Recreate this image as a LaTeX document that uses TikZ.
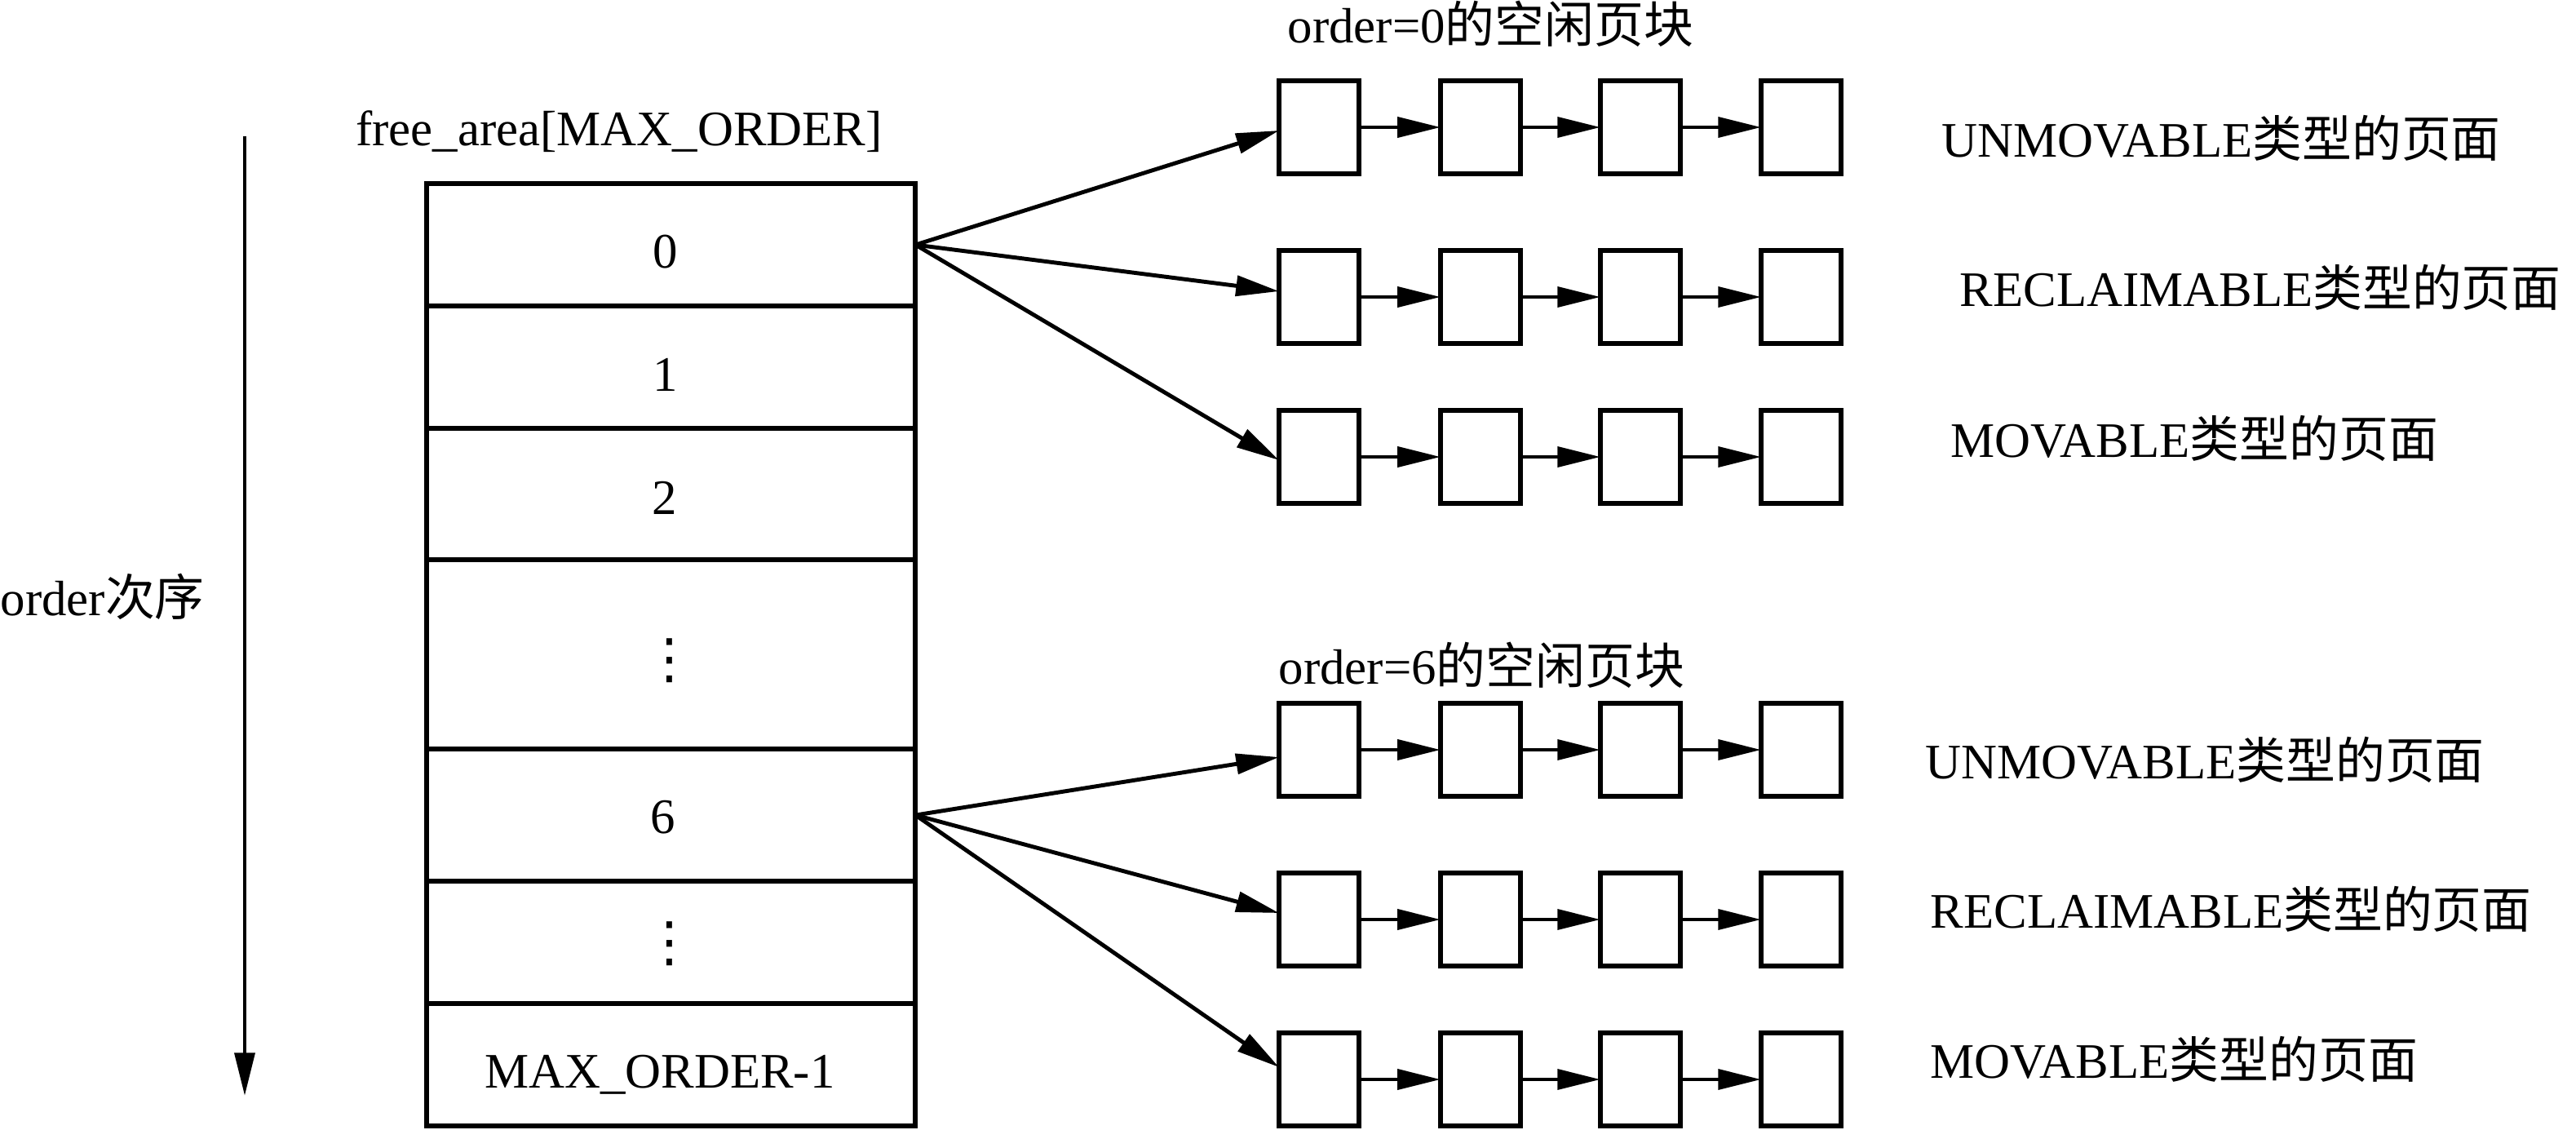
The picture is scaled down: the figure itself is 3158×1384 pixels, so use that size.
\documentclass[tikz,border=0pt]{standalone}
\usepackage{fontspec}
\setmainfont{Liberation Serif}
\newfontfamily\cjk{Noto Sans CJK SC}
\newfontfamily\dvs{DejaVu Sans}
\usetikzlibrary{arrows.meta,calc}
\begin{document}
\begin{tikzpicture}[x=0.01cm,y=-0.01cm,
  every node/.style={font=\fontsize{17.3pt}{20pt}\selectfont, inner sep=0pt},
  cell/.style={draw, line width=1.7pt, outer sep=0pt, minimum width=5.99cm, anchor=north west},
  page/.style={draw, line width=1.7pt, outer sep=0pt, minimum width=0.98cm, minimum height=1.14cm},
  link/.style={line width=1.4pt, -{Triangle[length=15pt,width=7pt]}},
  txt/.style={anchor=base west},
  vd/.style={font=\dvs\fontsize{19pt}{20pt}\selectfont},
]
\useasboundingbox (0,0) rectangle (3158,1384);

% table cells
\node[cell, minimum height=1.5cm]  (r0)   at (523,225)  {};
\node[cell, minimum height=1.5cm]  (r1)   at (523,375)  {};
\node[cell, minimum height=1.61cm] (r2)   at (523,525)  {};
\node[cell, minimum height=2.32cm] (r3)   at (523,686)  {};
\node[cell, minimum height=1.62cm] (r6)   at (523,918)  {};
\node[cell, minimum height=1.5cm]  (r7)   at (523,1080) {};
\node[cell, minimum height=1.5cm]  (rmax) at (523,1230) {};

% cell texts
\node[anchor=base] (t0) at (816,328) {0};
\node[anchor=base] (t1) at (816,479) {1};
\node[anchor=base] (t2) at (815,630) {2};
\node[vd] (d1) at (821,810) {⋮};
\node[anchor=base] (t6) at (813,1021) {6};
\node[vd] (d2) at (821,1157) {⋮};
\node[anchor=base] (tmax) at (809,1333) {MAX\_ORDER-1};
\node[anchor=base] (fa) at (759,178) {free\_area[MAX\_ORDER]};

% order arrow
\coordinate (otop) at (300,167);
\coordinate (obot) at (300,1343);
\draw[link] (otop) -- (obot);
\node[txt] (ord) at (0,754) {order{\cjk 次序}};

% group titles
\node[txt] (g0) at (1578,52) {order=0{\cjk 的空闲页块}};
\node[txt] (g6) at (1567,838) {order=6{\cjk 的空闲页块}};

% page chains
\foreach \r/\y in {1/156,2/364,3/560,4/919,5/1127,6/1323} {
  \foreach \c/\x in {1/1617,2/1815,3/2011,4/2208} {
    \node[page] (b\r\c) at (\x,\y) {};
  }
  \draw[link] (b\r1.east) -- (b\r2.west);
  \draw[link] (b\r2.east) -- (b\r3.west);
  \draw[link] (b\r3.east) -- (b\r4.west);
}

% fans
\draw[link] (r0.east) -- ($(b11.west)+(0,4)$);
\draw[link] (r0.east) -- ($(b21.west)+(0,-7)$);
\draw[link] (r0.east) -- ($(b31.west)+(0,4)$);
\draw[link] (r6.east) -- ($(b41.west)+(0,9)$);
\draw[link] (r6.east) -- ($(b51.west)+(0,-8)$);
\draw[link] (r6.east) -- ($(b61.west)+(0,-15)$);

% type labels
\node[txt] (l1) at (2380,192)  {UNMOVABLE{\cjk 类型的页面}};
\node[txt] (l2) at (2402,375)  {RECLAIMABLE{\cjk 类型的页面}};
\node[txt] (l3) at (2391,560)  {MOVABLE{\cjk 类型的页面}};
\node[txt] (l4) at (2360,954)  {UNMOVABLE{\cjk 类型的页面}};
\node[txt] (l5) at (2366,1137) {RECLAIMABLE{\cjk 类型的页面}};
\node[txt] (l6) at (2366,1321) {MOVABLE{\cjk 类型的页面}};
\end{tikzpicture}
\end{document}
